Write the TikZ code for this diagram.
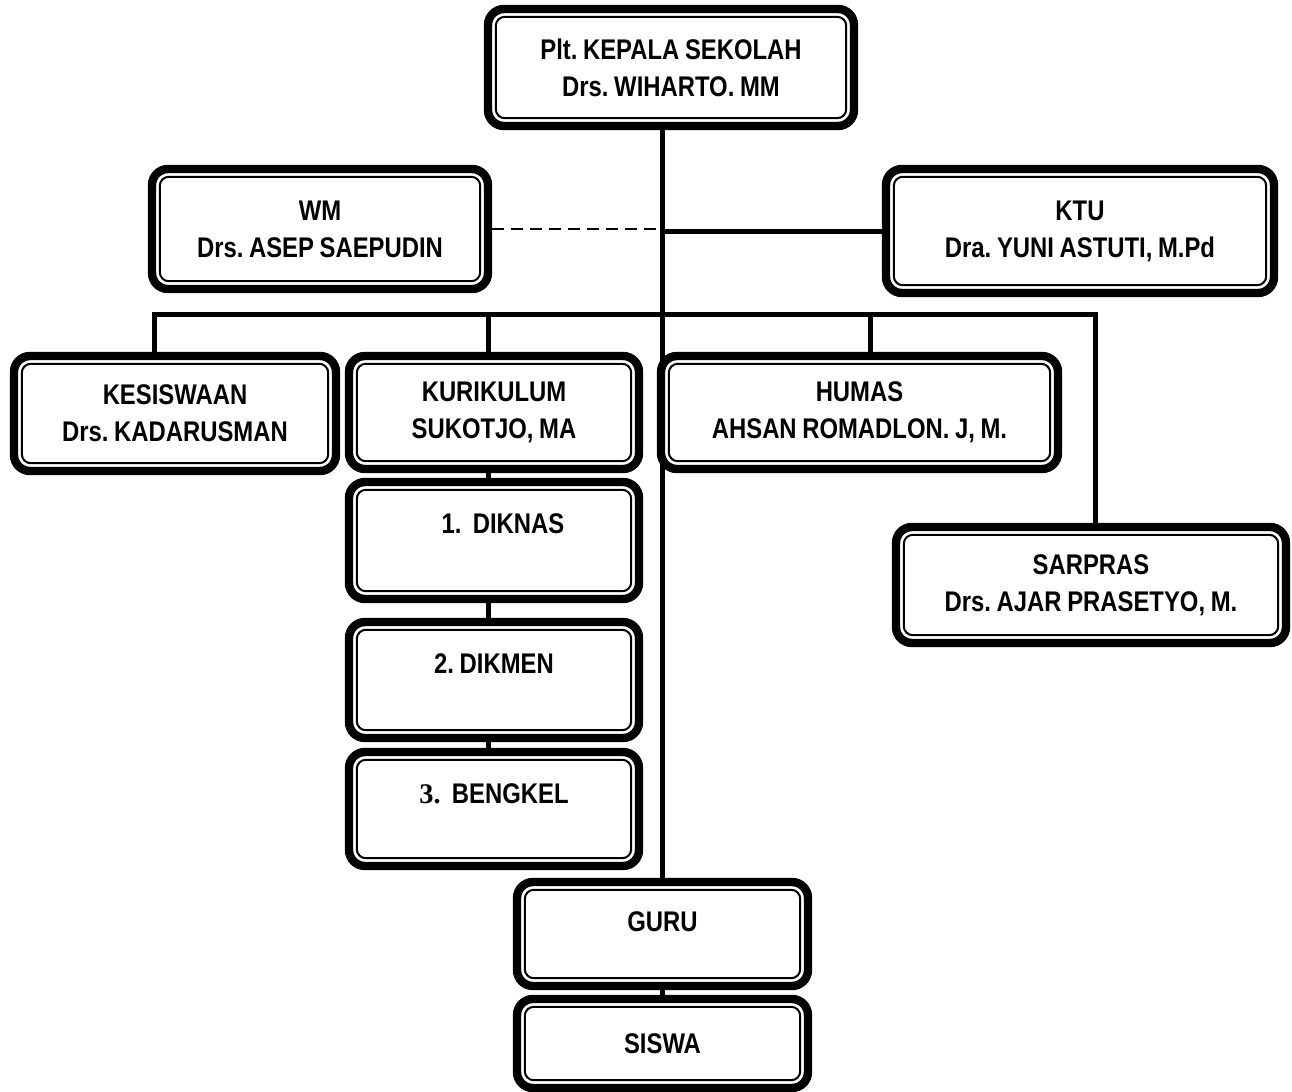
\documentclass[tikz,border=0pt]{standalone}
\usepackage{fontspec}
\setmainfont{Liberation Sans}[FakeStretch=0.84, WordSpace=0.85]
\newfontfamily\numserif{Liberation Serif}
\usetikzlibrary{positioning}
\frenchspacing

\begin{document}
\begin{tikzpicture}[
  x=0.5pt, y=-0.5pt,
  blk/.style={draw, fill=white, line width=4.2pt, rounded corners=8pt, inner sep=0pt,
              align=center, font=\fontsize{14.2}{18.5}\selectfont\bfseries,
              path picture={\draw[line width=1pt, rounded corners=4.5pt]
                ([shift={(3.9pt,3.9pt)}]path picture bounding box.south west) rectangle
                ([shift={(-3.9pt,-3.9pt)}]path picture bounding box.north east);}},
  conn/.style={line width=2.5pt},
  dconn/.style={line width=1pt, dash pattern=on 6pt off 3.5pt}
]
\path[use as bounding box, fill=white] (0,0) rectangle (1292,1092);
\node[blk, minimum width=183pt, minimum height=58.5pt] (kepala) at (671,67.5) {Plt. KEPALA SEKOLAH\\Drs. WIHARTO. MM};
\node[blk, minimum width=168pt, minimum height=60pt] (wm) at (320,229) {WM\\Drs. ASEP SAEPUDIN};
\node[blk, minimum width=194pt, minimum height=62pt] (ktu) at (1080,231) {KTU\\Dra. YUNI ASTUTI, M.Pd};
\node[blk, minimum width=161pt, minimum height=57.5pt] (kesis) at (175,413.5) {KESISWAAN\\Drs. KADARUSMAN};
\node[blk, minimum width=145pt, minimum height=56.5pt] (kuri) at (494,412.5) {KURIKULUM\\SUKOTJO, MA};
\node[blk, minimum width=198.5pt, minimum height=56.5pt] (humas) at (859.5,412.5) {HUMAS\\AHSAN ROMADLON. J, M.};
\node[blk, minimum width=195pt, minimum height=58pt] (sarpras) at (1091,585) {SARPRAS\\Drs. AJAR PRASETYO, M.};
\node[blk, minimum width=145pt, minimum height=58.5pt] (diknas) at (494,540.5) {\hspace*{9pt}1.\ \ DIKNAS\\[-1.5pt]~};
\node[blk, minimum width=145pt, minimum height=58pt] (dikmen) at (494,680) {2. DIKMEN\\[-2pt]~};
\node[blk, minimum width=145pt, minimum height=57pt] (bengkel) at (494,809) {{\numserif 3.}\ \ BENGKEL\\[-3pt]~};
\node[blk, minimum width=145.5pt, minimum height=52pt] (guru) at (662.5,934) {GURU\\[-6pt]~};
\node[blk, minimum width=145.5pt, minimum height=44.5pt] (siswa) at (662.5,1043.5) {SISWA};
\coordinate (b1) at (154,314);
\coordinate (b2) at (488,314);
\coordinate (b3) at (870,314);
\coordinate (b4) at (1095,314);
\draw[conn] (kepala.south -| guru.north) -- (guru.north);
\draw[dconn] (wm.east) -- (wm.east -| guru.north);
\draw[conn] (ktu.west -| guru.north) -- (ktu.west);
\draw[conn] (b1 |- kesis.north) -- (b1) -- (b4) -- (b4 |- sarpras.north);
\draw[conn] (b2) -- (b2 |- kuri.north);
\draw[conn] (b3) -- (b3 |- humas.north);
\draw[conn] (b2 |- kuri.south) -- (b2 |- diknas.north);
\draw[conn] (b2 |- diknas.south) -- (b2 |- dikmen.north);
\draw[conn] (b2 |- dikmen.south) -- (b2 |- bengkel.north);
\draw[conn] (guru.south) -- (siswa.north);
\end{tikzpicture}
\end{document}
